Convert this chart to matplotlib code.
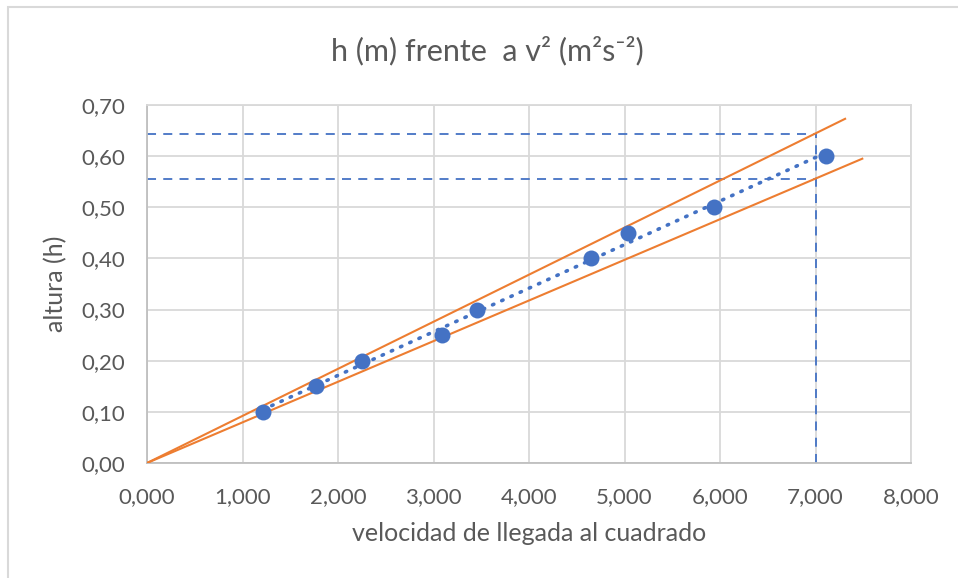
import numpy as np
import matplotlib
matplotlib.use("Agg")
import matplotlib.pyplot as plt
from matplotlib.patches import Rectangle

# Data (v^2 in thousands as displayed, h in m)
v2 = [1.21, 1.77, 2.25, 3.09, 3.46, 4.65, 5.04, 5.94, 7.11]
h = [0.10, 0.15, 0.20, 0.25, 0.30, 0.40, 0.45, 0.50, 0.60]

# Bounding lines from origin (end points)
upper_x = [0.0, 7.31]
upper_y = [0.0, 0.673]
lower_x = [0.0, 7.49]
lower_y = [0.0, 0.595]

# Reading guides
guide_x = 7.0
guide_y_high = 0.644
guide_y_low = 0.555

x_ticks = [0, 1, 2, 3, 4, 5, 6, 7, 8]
x_tick_labels = ["0,000", "1,000", "2,000", "3,000", "4,000", "5,000", "6,000", "7,000", "8,000"]
y_ticks = [0.0, 0.1, 0.2, 0.3, 0.4, 0.5, 0.6, 0.7]
y_tick_labels = ["0,00", "0,10", "0,20", "0,30", "0,40", "0,50", "0,60", "0,70"]

title = "h (m) frente  a v² (m²s⁻²)"
xlabel = "velocidad de llegada al cuadrado"
ylabel = "altura (h)"

FONT = ["Lato", "DejaVu Sans"]
plt.rcParams["font.family"] = FONT
TXT = "#595959"
BLUE = "#4472C4"
ORANGE = "#ED7D31"
GRID = "#D9D9D9"

W, H = 958, 578
fig = plt.figure(figsize=(W / 100, H / 100), dpi=100)
fig.patch.set_facecolor("white")

# chart-area border (only left and top visible)
fig.add_artist(Rectangle((8 / W, -0.01), 1.02, 1 - 7 / H + 0.01, transform=fig.transFigure,
                         fill=False, edgecolor="#D9D9D9", linewidth=1.5))

left, right = 147 / W, 911 / W
bottom, top = 1 - 463 / H, 1 - 105 / H
ax = fig.add_axes([left, bottom, right - left, top - bottom])

ax.set_xlim(0, 8)
ax.set_ylim(0, 0.70)
ax.set_xticks(x_ticks)
ax.set_xticklabels(x_tick_labels)
ax.set_yticks(y_ticks)
ax.set_yticklabels(y_tick_labels)
ax.tick_params(axis="both", length=0, labelsize=16, labelcolor=TXT)
ax.tick_params(axis="x", pad=17)
ax.tick_params(axis="y", pad=16)

ax.grid(True, color=GRID, linewidth=1.3)
ax.set_axisbelow(True)
for s in ["top", "right"]:
    ax.spines[s].set_color(GRID)
    ax.spines[s].set_linewidth(1.3)
ax.spines["left"].set_color("#BFBFBF")
ax.spines["bottom"].set_color("#BFBFBF")
ax.spines["left"].set_linewidth(1.3)
ax.spines["bottom"].set_linewidth(1.3)

# dashed guides
ax.plot([0, guide_x], [guide_y_high, guide_y_high], color=BLUE, lw=1.3, ls=(0, (5, 4)), zorder=2)
ax.plot([0, guide_x], [guide_y_low, guide_y_low], color=BLUE, lw=1.3, ls=(0, (5, 4)), zorder=2)
ax.plot([guide_x, guide_x], [0, guide_y_high], color=BLUE, lw=1.3, ls=(0, (5, 4)), zorder=2)

# bounding lines
ax.plot(upper_x, upper_y, color=ORANGE, lw=1.5, zorder=3)
ax.plot(lower_x, lower_y, color=ORANGE, lw=1.5, zorder=3)

# linear trendline (dotted) over the data range
coef = np.polyfit(v2, h, 1)
tx = np.array([min(v2), max(v2)])
ax.plot(tx, np.polyval(coef, tx), color=BLUE, lw=2.6, ls=(0, (0.4, 2.4)),
        dash_capstyle="round", solid_capstyle="round", zorder=4)

# data points
ax.plot(v2, h, "o", color=BLUE, markersize=11.5, markeredgewidth=0, zorder=5)

ax.set_xlabel(xlabel, fontsize=18, color=TXT, labelpad=11)
ax.set_ylabel(ylabel, fontsize=18, color=TXT, labelpad=10)

fig.text(487 / W, 1 - 51 / H, title, ha="center", va="center", fontsize=22, color=TXT)

fig.savefig("out.png", dpi=100, facecolor="white")
